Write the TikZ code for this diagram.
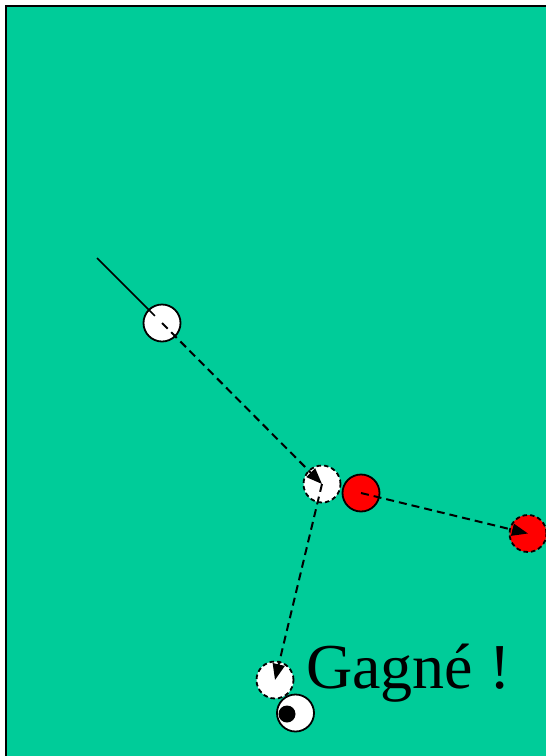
\documentclass[tikz,border=0pt]{standalone}
\usepackage{fontspec}
\setmainfont{Liberation Serif}
\usetikzlibrary{arrows.meta}
\definecolor{felt}{RGB}{0,204,153}
\definecolor{ballred}{RGB}{255,0,0}
\tikzset{
  ball/.style={circle,draw=black,line width=1.8pt,minimum size=37pt,inner sep=0pt},
  ghost/.style={circle,draw=black,line width=1.8pt,dash pattern=on 4.5pt off 3pt,minimum size=37pt,inner sep=0pt},
  path/.style={line width=2pt,dash pattern=on 8pt off 5pt,-{Triangle[length=16pt,width=12pt]}},
  plainpath/.style={line width=2pt,dash pattern=on 8pt off 5pt},
}
\begin{document}
\begin{tikzpicture}[x=1pt,y=-1pt]
\useasboundingbox (0,0) rectangle (546,756);
\fill[white] (0,0) rectangle (546,756);
\begin{scope}
\clip (0,0) rectangle (546,756);
\filldraw[fill=felt,draw=black,line width=2pt] (6,6) rectangle (600,800);
\end{scope}
\node[ball,fill=white] (b1) at (162,323) {};
\node[ghost,fill=white] (g1) at (322,484) {};
\node[ball,fill=ballred] (red) at (361,493) {};
\node[ghost,fill=ballred] (g2) at (528,533.5) {};
\node[ghost,fill=white] (g3) at (275,680) {};
\node[ball,fill=white] (fin) at (295.5,713) {};
\fill[black] (287,714) circle (8.5);
\coordinate (cue) at (97,258);
\draw[line width=1.5pt,shorten >=10pt] (cue) -- (b1.center);
\draw[path] (b1.center) -- (g1.center);
\draw[path] (red.center) -- (g2.center);
\draw[path] (g1.center) -- (g3.center);
\node[anchor=base west,font=\fontsize{64}{64}\selectfont,inner sep=0pt] (txt) at (306,688) {Gagné !};
\end{tikzpicture}
\end{document}
